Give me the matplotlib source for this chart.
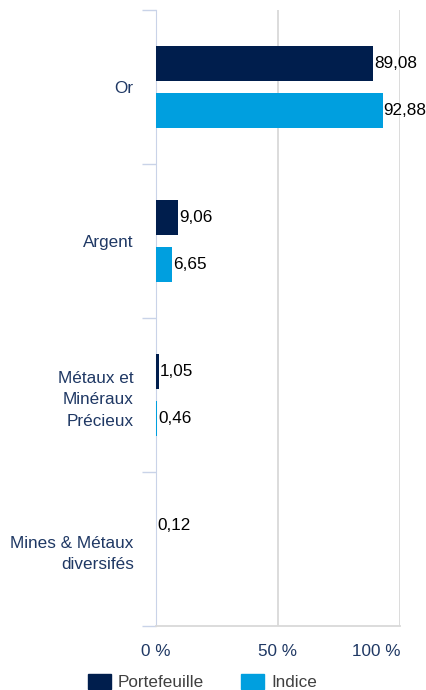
import matplotlib
matplotlib.use("Agg")
from matplotlib import pyplot as plt
from matplotlib.patches import Patch

plt.rcParams['font.family'] = ['Liberation Sans', 'DejaVu Sans']

categories = ["Or", "Argent", "Métaux et\nMinéraux\nPrécieux", "Mines & Métaux\ndiversifés"]
portefeuille = [89.08, 9.06, 1.05, 0.12]
indice = [92.88, 6.65, 0.46, None]
series_names = ["Portefeuille", "Indice"]
xticks = [0, 50, 100]
xtick_labels = ["0 %", "50 %", "100 %"]

navy = "#001e4d"
blue = "#009fdf"
label_col = "#1f3864"
fs = 12.3

fig = plt.figure(figsize=(4.26, 6.9), dpi=100)
ax = fig.add_axes([156 / 426, 64 / 690, 244 / 426, 616 / 690])

y = list(range(len(categories)))
h = 0.228
off = 0.15

for vals, col, d in [(portefeuille, navy, -off), (indice, blue, off)]:
    for yi, v in zip(y, vals):
        if v is None:
            continue
        ax.barh(yi + d, v, height=h, color=col, zorder=3)
        ax.text(v + 0.4, yi + d, f"{v:.2f}".replace(".", ","), va="center", ha="left",
                fontsize=fs, color="black", zorder=4)

ax.set_xlim(0, 100)
ax.set_ylim(3.5, -0.5)
ax.set_yticks(y)
ax.set_yticklabels(categories, color=label_col, fontsize=fs, ha="right", linespacing=1.55)
ax.set_yticks([-0.5, 0.5, 1.5, 2.5, 3.5], minor=True)
ax.tick_params(axis="y", which="major", length=0, pad=16)
ax.tick_params(axis="y", which="minor", length=10, color="#c9d3e8", width=1)

ax.set_xticks(xticks)
ax.set_xticklabels(xtick_labels, color=label_col, fontsize=fs)
ax.get_xticklabels()[-1].set_ha("right")
ax.tick_params(axis="x", length=0, pad=13)
ax.grid(axis="x", color="#d9d9d9", linewidth=1.3, zorder=0)

for s in ["top", "right"]:
    ax.spines[s].set_visible(False)
ax.spines["left"].set_color("#c9d3e8")
ax.spines["bottom"].set_color("#d9d9d9")
ax.spines["bottom"].set_linewidth(1.3)

handles = [Patch(color=navy), Patch(color=blue)]
fig.legend(handles, series_names, loc="center", bbox_to_anchor=(0.475, 0.011), ncol=2,
           frameon=False, fontsize=fs, handlelength=1.35, handleheight=0.9,
           handletextpad=0.4, columnspacing=2.2, borderpad=0, labelcolor="#404040")

fig.savefig("out.png", dpi=100)
